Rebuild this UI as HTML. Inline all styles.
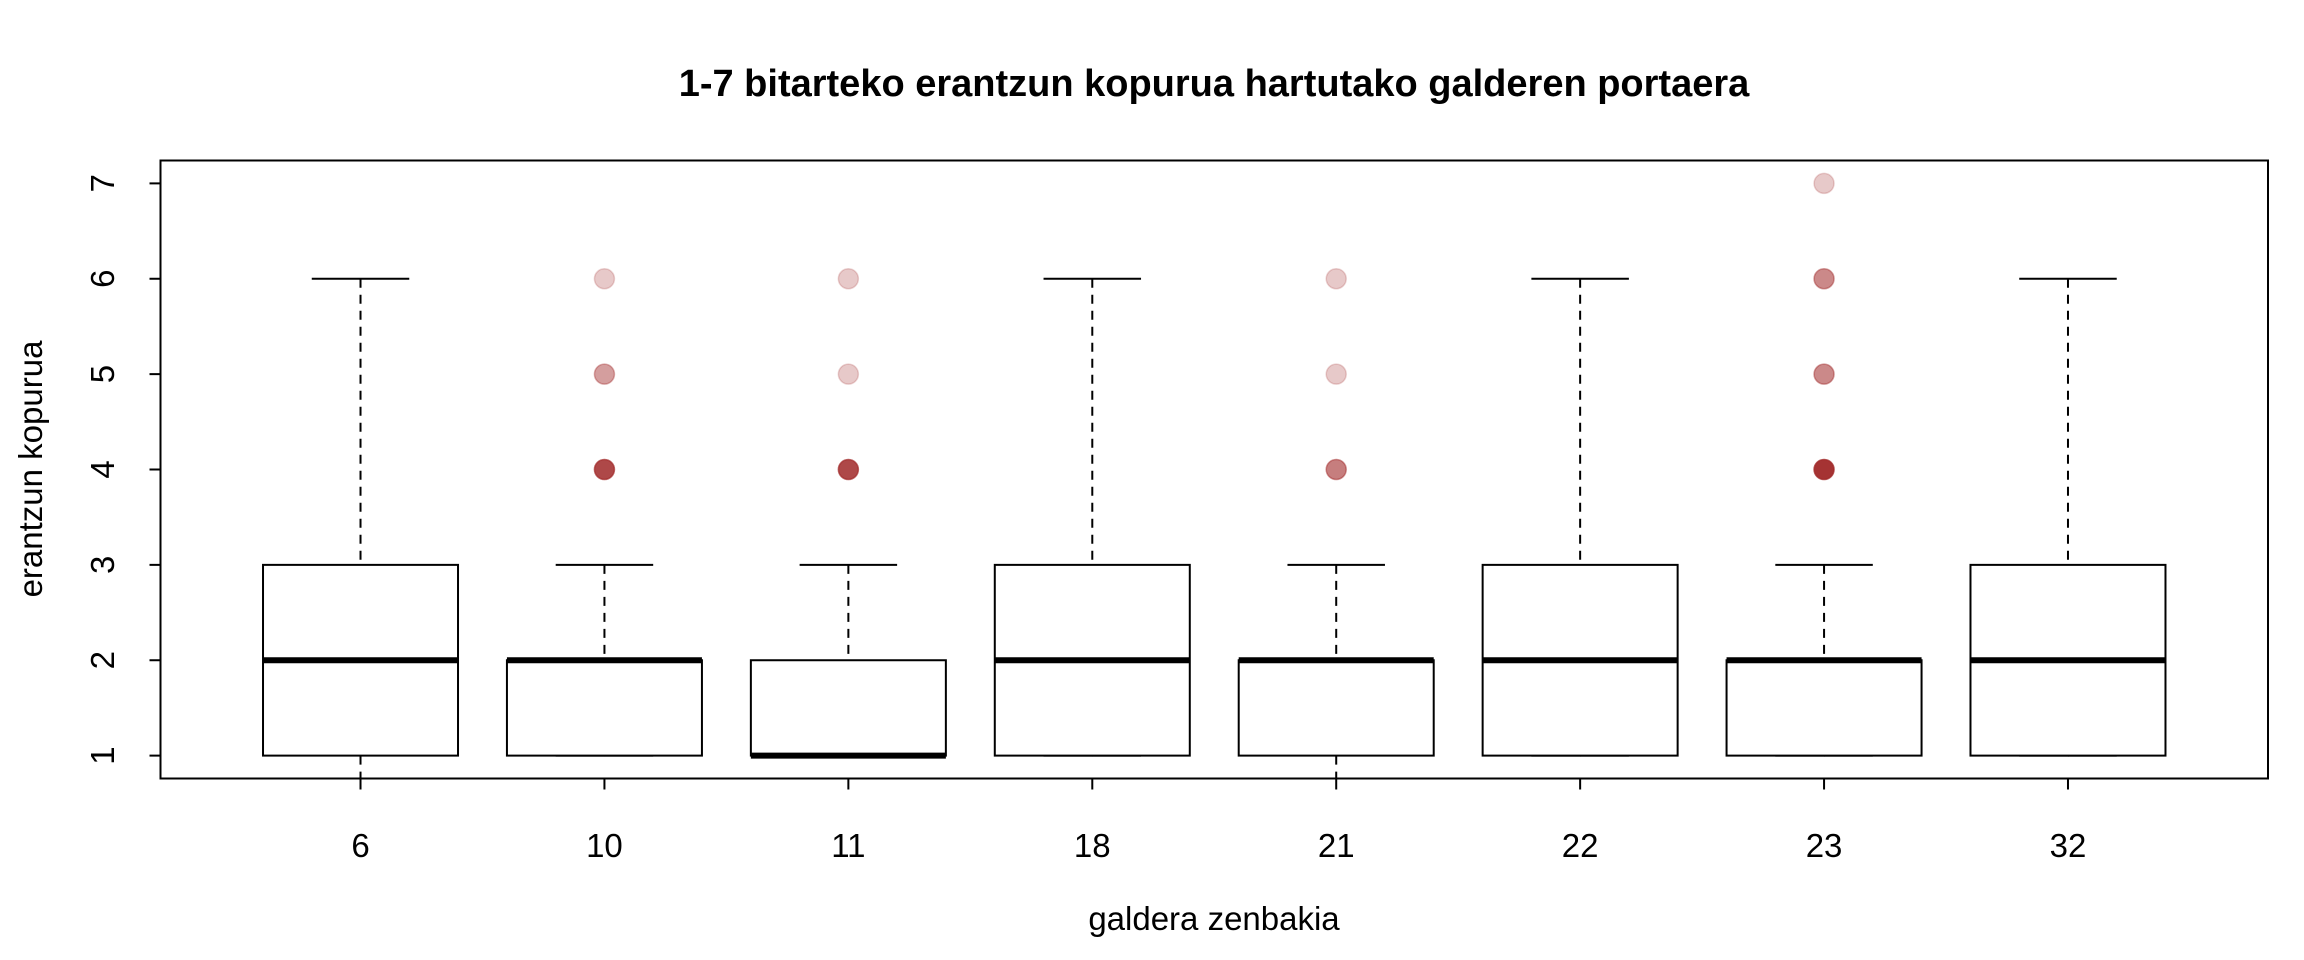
<!DOCTYPE html>
<html><head><meta charset="utf-8"><style>
body{margin:0;background:#fff}
svg{display:block;font-family:"Liberation Sans",Arial,sans-serif}
</style></head><body>
<svg id="chart" width="2304" height="960" viewBox="0 0 2304 960" xmlns="http://www.w3.org/2000/svg">
<text x="1214" y="96" font-size="38" font-weight="bold" text-anchor="middle">1-7 bitarteko erantzun kopurua hartutako galderen portaera</text>
<text x="1214" y="930" font-size="33" text-anchor="middle">galdera zenbakia</text>
<text transform="translate(42,469) rotate(-90)" font-size="33" text-anchor="middle">erantzun kopurua</text>
<g id="marks"></g>
<rect x="160.5" y="160.5" width="2107.5" height="618" fill="none" stroke="#000" stroke-width="2"/>
</svg>
<script>
const categories=["6","10","11","18","21","22","23","32"];
const whiskerLow=[0,1,1,1,0,1,1,1];
const q1=[1,1,1,1,1,1,1,1];
const medians=[2,2,1,2,2,2,2,2];
const q3=[3,2,2,3,2,3,2,3];
const whiskerHigh=[6,3,3,6,3,6,3,6];
const outlierGroup=[1,1,1,2,2,2,4,4,4,6,6,6,6];
const outlierValue=[4,5,6,4,5,6,4,5,6,4,5,6,7];
const outlierAlpha=[0.85,0.45,0.25,0.85,0.25,0.25,0.6,0.25,0.25,0.95,0.55,0.55,0.25];
const yTicks=[1,2,3,4,5,6,7];

const L=160.5,R=2268,T=160.5,B=778.5;
const xmin=0.18,xmax=8.82,ymin=0.76,ymax=7.24;
const xs=v=>L+(v-xmin)/(xmax-xmin)*(R-L);
const ys=v=>B-(v-ymin)/(ymax-ymin)*(B-T);
const g=document.getElementById('marks');
const NS="http://www.w3.org/2000/svg";
function mk(tag,attrs,name){const e=document.createElementNS(NS,tag);for(const k in attrs)e.setAttribute(k,attrs[k]);


g.appendChild(e);return e;}
const clip=v=>Math.max(T,Math.min(B,v));
const hw=97.5,cw=48.75;
categories.forEach((c,i)=>{
  const x=xs(i+1);
  mk('line',{x1:x,x2:x,y1:clip(ys(whiskerHigh[i])),y2:ys(q3[i]),stroke:'#000','stroke-width':2,'stroke-dasharray':'9,7'},'whisker-upper-'+c);
  mk('line',{x1:x,x2:x,y1:ys(q1[i]),y2:clip(ys(whiskerLow[i])),stroke:'#000','stroke-width':2,'stroke-dasharray':'9,7'},'whisker-lower-'+c);
  if(ys(whiskerHigh[i])>=T)mk('line',{x1:x-cw,x2:x+cw,y1:ys(whiskerHigh[i]),y2:ys(whiskerHigh[i]),stroke:'#000','stroke-width':2},'cap-upper-'+c);
  if(ys(whiskerLow[i])<=B)mk('line',{x1:x-cw,x2:x+cw,y1:ys(whiskerLow[i]),y2:ys(whiskerLow[i]),stroke:'#000','stroke-width':2},'cap-lower-'+c);
  mk('rect',{x:x-hw,y:ys(q3[i]),width:2*hw,height:ys(q1[i])-ys(q3[i]),fill:'#fff',stroke:'#000','stroke-width':2},'box-'+c);
  mk('line',{x1:x-hw,x2:x+hw,y1:ys(medians[i]),y2:ys(medians[i]),stroke:'#000','stroke-width':6},'median-'+c);
  mk('line',{x1:x,x2:x,y1:B,y2:B+11,stroke:'#000','stroke-width':2},'x-tick-'+c);
  const t=mk('text',{x:x,y:857,'font-size':33,'text-anchor':'middle'},'x-tick-label-'+c);t.textContent=c;
});
outlierGroup.forEach((gi,k)=>{
  mk('circle',{cx:xs(gi+1),cy:ys(outlierValue[k]),r:10,fill:'#a02828','fill-opacity':outlierAlpha[k],stroke:'#a02828','stroke-opacity':outlierAlpha[k]*0.8,'stroke-width':1.5},'outlier-'+categories[gi]+'-'+outlierValue[k]);
});
yTicks.forEach(v=>{
  const y=ys(v);
  mk('line',{x1:L-11,x2:L,y1:y,y2:y,stroke:'#000','stroke-width':2},'y-tick-'+v);
  const t=mk('text',{transform:`translate(114,${y}) rotate(-90)`,'font-size':33,'text-anchor':'middle'},'y-tick-label-'+v);t.textContent=v;
});
</script>
</body></html>
